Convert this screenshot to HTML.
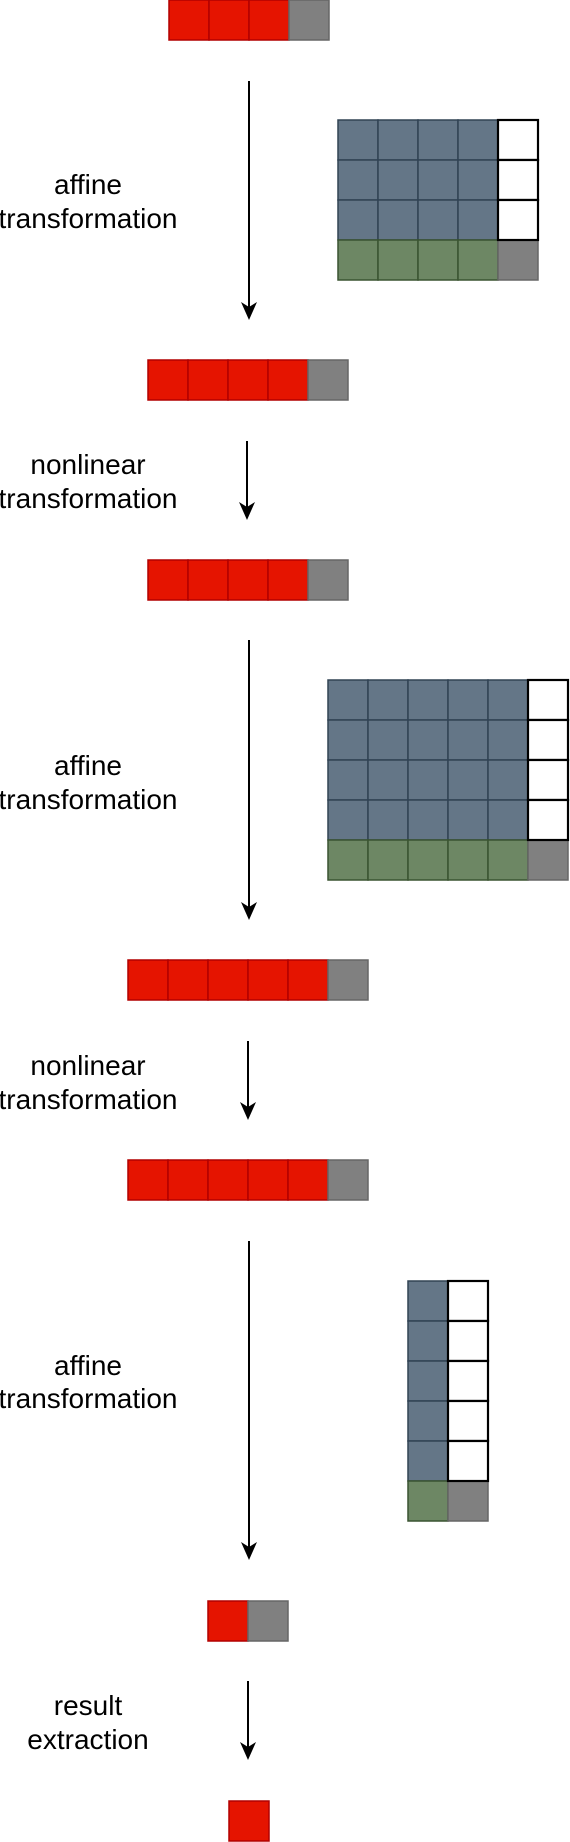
<!DOCTYPE html>
<html><head><meta charset="utf-8"><style>
html,body{margin:0;padding:0;background:#fff;}
svg{display:block;}
text{font-family:"Liberation Sans",sans-serif;font-size:28px;fill:#000;text-anchor:middle;}
</style></head><body>
<svg width="570" height="1842" viewBox="0 0 570 1842" xmlns="http://www.w3.org/2000/svg">
<defs>
<rect id="r" width="40" height="40" fill="#e51400" stroke="#b20000" stroke-width="1.5"/>
<rect id="g" width="40" height="40" fill="#808080" stroke="#666666" stroke-width="1.5"/>
<rect id="b" width="40" height="40" fill="#647687" stroke="#314354" stroke-width="1.5"/>
<rect id="v" width="40" height="40" fill="#6d8764" stroke="#3a5431" stroke-width="1.5"/>
<rect id="w" width="40" height="40" fill="#ffffff" stroke="#000000" stroke-width="2.2"/>
</defs>

<use href="#r" x="169" y="0"/><use href="#r" x="209" y="0"/><use href="#r" x="249" y="0"/><use href="#g" x="289" y="0"/>

<line x1="249" y1="81" x2="249" y2="308" stroke="#000" stroke-width="2"/>
<polygon points="249,320 241,302 249,307 257,302" fill="#000"/>
<text x="88" y="194">affine</text><text x="88" y="228">transformation</text>

<g transform="translate(338,120)">
<use href="#b" x="0" y="0"/><use href="#b" x="40" y="0"/><use href="#b" x="80" y="0"/><use href="#b" x="120" y="0"/>
<use href="#b" x="0" y="40"/><use href="#b" x="40" y="40"/><use href="#b" x="80" y="40"/><use href="#b" x="120" y="40"/>
<use href="#b" x="0" y="80"/><use href="#b" x="40" y="80"/><use href="#b" x="80" y="80"/><use href="#b" x="120" y="80"/>
<use href="#v" x="0" y="120"/><use href="#v" x="40" y="120"/><use href="#v" x="80" y="120"/><use href="#v" x="120" y="120"/><use href="#g" x="160" y="120"/>
<use href="#w" x="160" y="0"/><use href="#w" x="160" y="40"/><use href="#w" x="160" y="80"/>
</g>

<g transform="translate(148,360)"><use href="#r" x="0"/><use href="#r" x="40"/><use href="#r" x="80"/><use href="#r" x="120"/><use href="#g" x="160"/></g>
<line x1="247" y1="441" x2="247" y2="508" stroke="#000" stroke-width="2"/>
<polygon points="247,520 239,502 247,507 255,502" fill="#000"/>
<text x="88" y="474">nonlinear</text><text x="88" y="508">transformation</text>

<g transform="translate(148,560)"><use href="#r" x="0"/><use href="#r" x="40"/><use href="#r" x="80"/><use href="#r" x="120"/><use href="#g" x="160"/></g>
<line x1="249" y1="640" x2="249" y2="908" stroke="#000" stroke-width="2"/>
<polygon points="249,920 241,902 249,907 257,902" fill="#000"/>
<text x="88" y="775">affine</text><text x="88" y="809">transformation</text>

<g transform="translate(328,680)">
<g><use href="#b" x="0"/><use href="#b" x="40"/><use href="#b" x="80"/><use href="#b" x="120"/><use href="#b" x="160"/></g>
<g transform="translate(0,40)"><use href="#b" x="0"/><use href="#b" x="40"/><use href="#b" x="80"/><use href="#b" x="120"/><use href="#b" x="160"/></g>
<g transform="translate(0,80)"><use href="#b" x="0"/><use href="#b" x="40"/><use href="#b" x="80"/><use href="#b" x="120"/><use href="#b" x="160"/></g>
<g transform="translate(0,120)"><use href="#b" x="0"/><use href="#b" x="40"/><use href="#b" x="80"/><use href="#b" x="120"/><use href="#b" x="160"/></g>
<g transform="translate(0,160)"><use href="#v" x="0"/><use href="#v" x="40"/><use href="#v" x="80"/><use href="#v" x="120"/><use href="#v" x="160"/><use href="#g" x="200"/></g>
<use href="#w" x="200" y="0"/><use href="#w" x="200" y="40"/><use href="#w" x="200" y="80"/><use href="#w" x="200" y="120"/>
</g>

<g transform="translate(128,960)"><use href="#r" x="0"/><use href="#r" x="40"/><use href="#r" x="80"/><use href="#r" x="120"/><use href="#r" x="160"/><use href="#g" x="200"/></g>
<line x1="248" y1="1041" x2="248" y2="1108" stroke="#000" stroke-width="2"/>
<polygon points="248,1120 240,1102 248,1107 256,1102" fill="#000"/>
<text x="88" y="1075">nonlinear</text><text x="88" y="1109">transformation</text>

<g transform="translate(128,1160)"><use href="#r" x="0"/><use href="#r" x="40"/><use href="#r" x="80"/><use href="#r" x="120"/><use href="#r" x="160"/><use href="#g" x="200"/></g>
<line x1="249" y1="1241" x2="249" y2="1548" stroke="#000" stroke-width="2"/>
<polygon points="249,1560 241,1542 249,1547 257,1542" fill="#000"/>
<text x="88" y="1375">affine</text><text x="88" y="1408">transformation</text>

<g transform="translate(408,1281)">
<use href="#b" x="0" y="0"/><use href="#b" x="0" y="40"/><use href="#b" x="0" y="80"/><use href="#b" x="0" y="120"/><use href="#b" x="0" y="160"/>
<use href="#v" x="0" y="200"/><use href="#g" x="40" y="200"/>
<use href="#w" x="40" y="0"/><use href="#w" x="40" y="40"/><use href="#w" x="40" y="80"/><use href="#w" x="40" y="120"/><use href="#w" x="40" y="160"/>
</g>

<use href="#r" x="208" y="1601"/><use href="#g" x="248" y="1601"/>
<line x1="248" y1="1681" x2="248" y2="1748" stroke="#000" stroke-width="2"/>
<polygon points="248,1760 240,1742 248,1747 256,1742" fill="#000"/>
<text x="88" y="1715">result</text><text x="88" y="1749">extraction</text>

<use href="#r" x="229" y="1801"/>
</svg>
</body></html>
